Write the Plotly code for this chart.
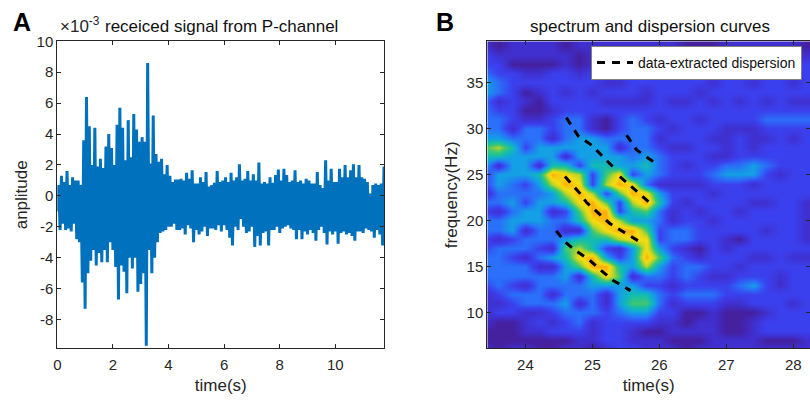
import numpy as np
import plotly.graph_objects as go

# ---------- Panel A: signal (units of 1e-3) ----------
upper_peaks = [
    0.7, 1.3, 0.9, 1.6, 0.7, 1.2, 1.0, 1.0, 0.7, 3.6,
    6.4, 4.5, 2.0, 4.4, 1.9, 2.4, 1.8, 3.2, 4.0, 3.1,
    2.0, 4.6, 5.7, 4.4, 2.3, 4.9, 2.5, 5.3, 4.3, 3.5,
    3.8, 3.5, 8.6, 2.1, 5.2, 2.7, 2.2, 2.4, 1.4, 2.0,
    1.3, 0.9, 1.05, 1.05, 1.1, 1.0, 1.5, 1.1, 1.65, 0.8,
    0.8, 1.2, 0.9, 1.55, 0.6, 0.7, 0.85, 1.6, 0.9, 1.0,
    1.2, 0.9, 1.5, 1.0, 1.2, 2.05, 1.0, 1.1, 1.6, 1.0,
    1.4, 1.0, 2.15, 0.8, 0.9, 0.8, 1.2, 0.85, 1.35, 1.7,
    1.0, 1.75, 1.35, 0.9, 1.0, 1.65, 0.9, 1.0, 0.8, 1.1,
    1.0, 0.8, 0.8, 1.55, 0.7, 0.5, 2.3, 1.0, 1.75, 0.9,
    0.9, 1.75, 1.2, 2.0, 1.2, 1.65, 2.05, 1.2, 2.0, 1.2,
    1.1, 0.9, 0.15, 0.7, 0.8, 0.7, 0.8, 1.9,
]
lower_peaks = [
    -1.0, -2.2, -1.8, -2.2, -2.1, -2.3, -1.8, -2.8, -3.0, -5.6,
    -7.3, -5.0, -4.2, -3.5, -4.5, -3.7, -4.3, -3.5, -4.3, -3.0,
    -3.5, -4.6, -6.7, -4.5, -4.9, -6.3, -4.0, -4.7, -4.0, -6.2,
    -5.7, -5.0, -9.7, -3.5, -5.0, -4.0, -3.0, -2.4, -2.3, -2.2,
    -2.0, -2.0, -1.8, -2.2, -2.2, -2.1, -2.5, -1.9, -2.1, -3.0,
    -2.2, -2.5, -2.3, -2.0, -2.6, -2.1, -2.1, -2.2, -1.9, -2.3,
    -1.9, -2.2, -2.7, -3.2, -2.0, -2.2, -1.5, -2.0, -2.4, -2.3,
    -2.0, -3.3, -2.6, -3.2, -2.4, -2.3, -3.2, -2.2, -2.2, -2.0,
    -2.4, -2.1, -2.0, -1.9, -2.1, -2.2, -2.8, -2.2, -2.8, -2.3,
    -2.5, -2.2, -2.4, -2.9, -2.2, -2.0, -2.4, -3.15, -2.3, -2.5,
    -2.3, -3.1, -2.4, -2.3, -2.5, -2.4, -2.6, -2.9, -2.3, -2.3,
    -2.4, -2.1, -2.2, -2.3, -2.7, -2.2, -2.5, -3.2,
]
signal_t = []
signal_v = []
for k, (lo, up) in enumerate(zip(lower_peaks, upper_peaks)):
    signal_t += [k * 0.1, k * 0.1 + 0.05]
    signal_v += [lo, up]

a_xticks = [0, 2, 4, 6, 8, 10]
a_yticks = [-8, -6, -4, -2, 0, 2, 4, 6, 8, 10]
a_ylabels = ["-8", "-6", "-4", "-2", "0", "2", "4", "6", "8", "10"]

# ---------- Panel B: spectrum (relative level 0-10) ----------
spec_t = [23.4, 23.6, 23.8, 24.0, 24.2, 24.4, 24.6, 24.8, 25.0, 25.2, 25.4, 25.6, 25.8,
          26.0, 26.2, 26.4, 26.6, 26.8, 27.0, 27.2, 27.4, 27.6, 27.8, 28.0, 28.2]
spec_f = [39, 38, 37, 36, 35, 34, 33, 32, 31, 30, 29, 28, 27, 26, 25, 24, 23, 22, 21, 20,
          19, 18, 17, 16, 15, 14, 13, 12, 11, 10, 9, 8, 7, 6]
spec_z = [
    [2,1,2,2,2,2,1,2,2,2,2,2,2,2,2,1,1,1,2,2,2,2,2,2,1],
    [3,2,2,2,2,2,2,1,2,3,3,3,3,3,3,2,2,2,2,2,2,2,2,2,2],
    [3,3,1,1,1,1,2,1,2,3,3,3,3,3,3,3,3,3,3,3,3,3,3,3,3],
    [4,3,3,2,2,3,3,2,3,3,3,3,3,3,3,3,3,3,3,3,3,3,3,3,3],
    [5,4,3,3,3,3,3,3,3,2,2,3,3,3,3,3,3,2,3,3,2,3,3,2,3],
    [5,4,3,1,2,3,2,3,2,3,3,3,2,3,3,3,2,3,3,3,3,3,3,3,3],
    [4,2,3,2,1,3,3,3,3,2,2,2,2,3,2,2,3,2,3,2,3,2,3,2,2],
    [4,3,3,1,1,2,3,3,3,3,3,3,3,3,3,3,3,3,3,3,3,3,3,3,3],
    [4,4,3,2,2,3,4,4,2,1,3,4,3,2,3,3,2,3,3,3,3,4,4,4,4],
    [4,4,2,4,4,3,4,4,2,1,3,4,4,3,2,3,3,3,2,2,2,3,3,3,3],
    [5,5,4,4,4,2,4,5,5,4,4,4,4,2,3,3,3,2,2,3,2,2,3,2,3],
    [7,8,6,3,5,5,5,5,5,5,2,4,4,3,2,2,3,3,2,3,2,3,3,3,3],
    [6,6,5,5,5,5,2,5,5,5,5,4,5,4,3,3,3,2,2,3,3,3,3,3,3],
    [5,2,5,5,2,6,6,3,6,6,5,5,6,4,3,2,3,3,4,4,5,4,3,3,3],
    [3,5,5,5,6,10,9,8,3,7,9,3,5,4,3,3,3,4,5,5,5,3,2,3,3],
    [3,5,4,3,5,8,10,9,3,8,10,9,4,2,2,2,2,3,3,3,2,3,3,3,3],
    [2,4,4,4,4,5,8,10,8,3,7,10,9,5,3,3,3,2,3,3,3,3,3,3,3],
    [4,4,5,3,5,5,6,9,10,7,3,8,10,6,3,2,3,3,3,3,2,2,3,3,2],
    [3,2,4,5,5,2,3,7,10,10,3,6,7,4,2,3,2,3,3,2,3,3,3,3,2],
    [4,4,5,5,5,4,4,6,9,10,8,5,5,4,2,3,3,2,3,3,3,3,3,3,2],
    [4,4,5,2,4,4,2,2,7,9,10,10,7,3,4,4,3,3,3,3,3,2,3,3,2],
    [3,2,3,4,4,4,5,6,6,6,8,9,9,3,4,4,3,3,2,1,3,3,3,3,2],
    [3,4,4,4,3,2,7,8,6,3,2,5,9,5,3,2,1,3,2,3,3,3,3,3,3],
    [4,4,3,2,4,5,6,9,10,5,3,5,10,7,4,3,2,3,3,3,2,2,3,2,2],
    [4,4,4,4,2,2,5,7,10,10,6,5,8,5,3,4,4,3,3,2,3,3,3,3,3],
    [4,4,4,4,4,4,5,2,6,9,7,2,4,4,3,4,3,2,2,3,3,3,2,3,3],
    [3,4,3,2,4,4,4,4,5,5,5,5,3,3,2,3,3,3,3,4,5,3,2,3,3],
    [2,3,4,4,4,2,4,4,4,2,5,6,6,4,3,4,4,4,3,3,3,3,3,3,3],
    [2,2,3,4,4,4,5,2,4,2,5,7,7,4,2,3,3,3,2,2,3,3,3,2,3],
    [2,3,3,2,2,3,4,4,4,3,4,5,5,3,3,1,1,2,1,1,1,2,3,3,3],
    [2,1,1,2,3,2,3,4,2,3,3,3,3,2,2,1,2,2,1,1,2,3,3,3,3],
    [1,1,1,2,2,3,3,3,2,3,3,2,1,1,2,2,2,2,1,1,2,3,3,3,3],
    [1,1,1,1,1,1,1,2,2,3,3,2,2,2,1,1,1,2,2,2,2,1,1,1,2],
    [2,1,2,2,1,1,2,2,1,2,3,3,2,2,2,1,2,2,2,2,2,2,2,2,2],
]
spec_colors = [
    [0.0, "#3a1a8c"], [0.1, "#45209f"], [0.2, "#3f30cf"], [0.3, "#3b40ee"],
    [0.4, "#2a70f8"], [0.5, "#14a0e4"], [0.6, "#12bcb0"], [0.7, "#40c870"],
    [0.8, "#b8d428"], [0.9, "#f8dc10"], [1.0, "#fbae0c"],
]

# Dispersion branches (time in s, frequency in Hz), None separates branches
disp_t = [24.61, 24.79, 24.99, 25.26, 25.34, None,
          25.51, 25.66, 25.93, None,
          24.59, 24.81, 24.91, 25.09, 25.26, 25.46, 25.71, None,
          25.41, 25.61, 25.78, 25.88, None,
          24.46, 24.59, 24.74, 24.96, 25.16, 25.31, 25.57]
disp_f = [31.2, 29.2, 28.2, 26.2, 25.6, None,
          29.3, 27.7, 26.3, None,
          24.8, 23.0, 22.0, 20.8, 19.7, 18.8, 17.7, None,
          24.8, 23.5, 22.5, 21.8, None,
          18.9, 17.7, 16.8, 15.7, 14.4, 13.5, 12.4]

b_xticks = [24, 25, 26, 27, 28]
b_yticks = [10, 15, 20, 25, 30, 35]

# ---------- Figure ----------
W, H = 810, 400
TXT = "#262626"
FONT = "Liberation Sans"

fig = go.Figure()
fig.add_trace(go.Scatter(x=signal_t, y=signal_v, mode="lines", showlegend=False,
                         line=dict(color="#0072BD", width=3, simplify=False),
                         xaxis="x", yaxis="y"))
fig.add_trace(go.Heatmap(x=spec_t, y=spec_f, z=spec_z, zmin=0, zmax=10, zsmooth="best",
                         colorscale=spec_colors, showscale=False, xaxis="x2", yaxis="y2"))
fig.add_trace(go.Scatter(x=disp_t, y=disp_f, mode="lines", name="data-extracted dispersion",
                         line=dict(color="black", width=3, dash="8px,7px"),
                         connectgaps=False, xaxis="x2", yaxis="y2"))

def axis(**kw):
    base = dict(showgrid=False, zeroline=False, showline=True, linecolor=TXT, linewidth=1,
                mirror="ticks", ticks="inside", ticklen=4, tickcolor=TXT, tickwidth=1,
                automargin=False, tickfont=dict(family=FONT, size=15, color=TXT))
    base.update(kw)
    return base

def title(text, standoff):
    return dict(text=text, font=dict(family=FONT, size=17, color=TXT), standoff=standoff)

dom_y = [(H - 348.3) / H, (H - 41.3) / H]
fig.update_layout(
    template="none",
    width=W, height=H, margin=dict(l=0, r=0, t=0, b=0),
    paper_bgcolor="white", plot_bgcolor="white", font=dict(family=FONT),
    xaxis=axis(domain=[57.3 / W, 384.3 / W], range=[0, 11.76], tickvals=a_xticks,
               ticklabelstandoff=3, title=title("time(s)", 6)),
    yaxis=axis(domain=dom_y, range=[-9.86, 10], tickvals=a_yticks, ticktext=a_ylabels,
               title=title("anplitude", 4)),
    xaxis2=axis(domain=[487.3 / W, 1.0], range=[23.43, 28.25], tickvals=b_xticks,
                anchor="y2", ticklabelstandoff=3, title=title("time(s)", 6)),
    yaxis2=axis(domain=dom_y, range=[6.13, 39.5], tickvals=b_yticks,
                anchor="x2", title=title("frequency(Hz)", 4)),
    legend=dict(x=591 / W, y=(H - 46) / H, xanchor="left", yanchor="top",
                bgcolor="white", bordercolor="#808080", borderwidth=1,
                font=dict(family=FONT, size=14, color="#111111"),
                itemwidth=36, tracegroupgap=0),
    annotations=[
        dict(text="<b>A</b>", x=11 / W, y=(H - 6) / H, xref="paper", yref="paper",
             xanchor="left", yanchor="top", showarrow=False,
             font=dict(family=FONT, size=25, color="black")),
        dict(text="<b>B</b>", x=434 / W, y=(H - 6) / H, xref="paper", yref="paper",
             xanchor="left", yanchor="top", showarrow=False,
             font=dict(family=FONT, size=25, color="black")),
        dict(text="×10<sup>-3</sup>", x=58 / W, y=(H - 38) / H, xref="paper", yref="paper",
             xanchor="left", yanchor="bottom", showarrow=False,
             font=dict(family=FONT, size=17, color=TXT)),
        dict(text="receiced signal from P-channel", x=221 / W, y=(H - 38) / H, xref="paper", yref="paper",
             xanchor="center", yanchor="bottom", showarrow=False,
             font=dict(family=FONT, size=17, color="#111111")),
        dict(text="spectrum and dispersion curves", x=650 / W, y=(H - 38) / H, xref="paper", yref="paper",
             xanchor="center", yanchor="bottom", showarrow=False,
             font=dict(family=FONT, size=17, color="#111111")),
    ],
)
fig.write_html("out.html", config={"displayModeBar": False},
               post_script="document.body.style.margin='0';document.documentElement.style.overflow='hidden';")
